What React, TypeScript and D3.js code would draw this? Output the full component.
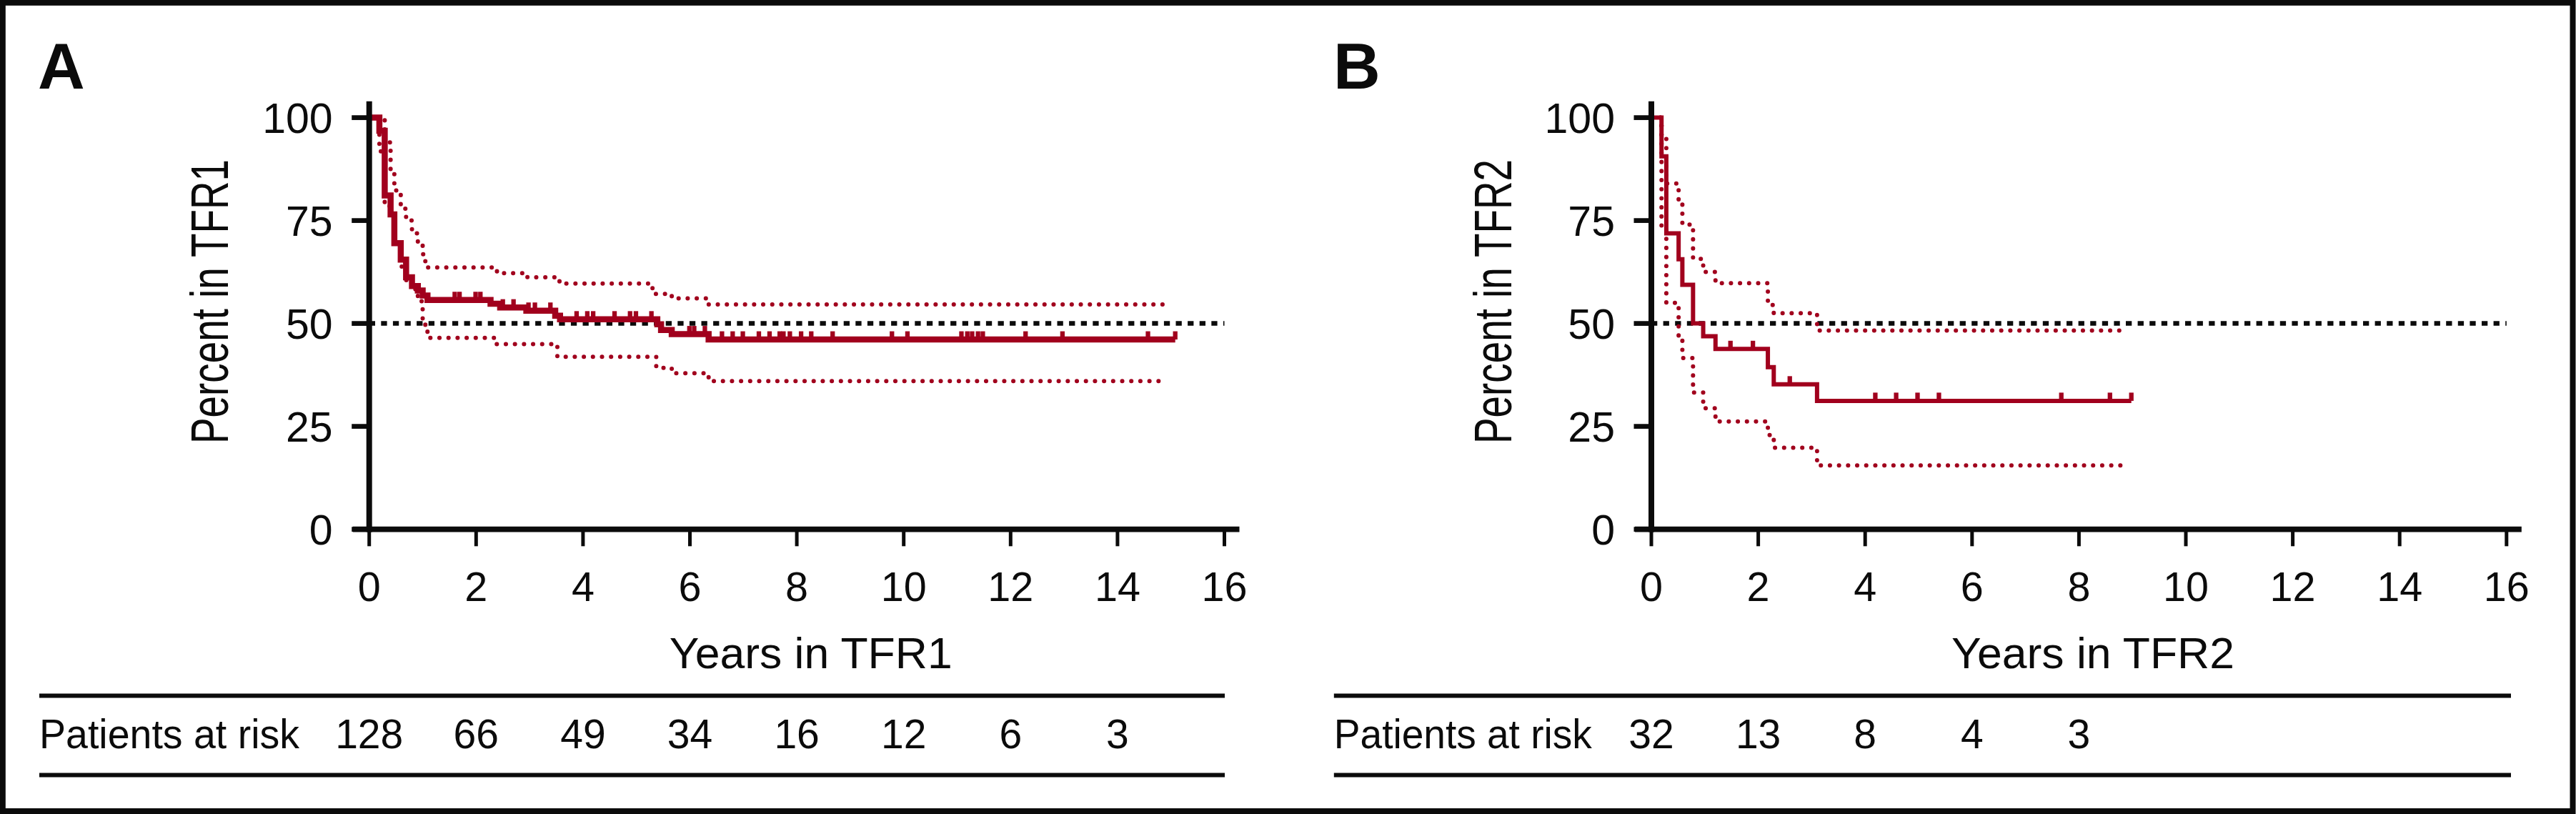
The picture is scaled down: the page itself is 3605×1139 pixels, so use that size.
import React from 'react';
import * as d3 from 'd3';

// ---------- shared axis values ----------
const yTicks = [0, 25, 50, 75, 100];
const xTicks = [0, 2, 4, 6, 8, 10, 12, 14, 16];
const riskYears = [0, 2, 4, 6, 8, 10, 12, 14];

// ---------- Panel A (TFR1) ----------
const survA: [number, number][] = [
  [0, 100], [0.19, 96.8], [0.29, 81.1], [0.4, 76.5], [0.47, 69.5], [0.59, 65.5],
  [0.69, 61.2], [0.8, 59.1], [0.91, 58.0], [1.0, 56.8], [1.09, 55.7], [2.27, 54.8],
  [2.45, 53.9], [2.94, 53.1], [3.48, 51.9], [3.57, 51.0], [5.39, 49.8], [5.46, 48.4],
  [5.66, 47.4], [6.35, 46.1],
];
const survAEnd = 15.08;
const upperA: [number, number][] = [
  [0, 100], [0.29, 94], [0.4, 87.2], [0.47, 82.3], [0.59, 77.9], [0.69, 75], [0.8, 71.9],
  [0.91, 69], [1.0, 66.8], [1.05, 65], [1.09, 63.6], [2.39, 62.2], [2.96, 61.2],
  [3.56, 59.7], [5.3, 57.2], [5.66, 56.1], [6.35, 54.6],
];
const upperAEnd = 15.0;
const lowerA: [number, number][] = [
  [0, 100], [0.19, 91.8], [0.29, 78.5], [0.4, 75.1], [0.47, 69.5], [0.59, 63.8],
  [0.69, 60.5], [0.8, 58.3], [0.91, 55.4], [1.0, 50.3], [1.05, 48.4], [1.09, 46.5],
  [2.36, 45], [3.52, 41.9], [5.37, 39.2], [5.66, 37.9], [6.35, 36.0],
];
const lowerAEnd = 14.85;
const censorA = [
  1.6, 1.69, 1.99, 2.08, 2.5, 2.7, 2.98, 3.1, 3.39, 3.88, 4.08, 4.19, 4.59, 4.88, 4.99,
  5.28, 5.99, 6.08, 6.28, 6.6, 6.8, 6.99, 7.29, 7.49, 7.68, 7.75, 7.87, 8.08, 8.27,
  8.67, 9.78, 10.07, 11.08, 11.19, 11.28, 11.39, 11.48, 12.28, 12.97, 14.57, 15.08,
];
const riskA = ['128', '66', '49', '34', '16', '12', '6', '3'];

// ---------- Panel B (TFR2) ----------
const survB: [number, number][] = [
  [0, 100], [0.19, 90.6], [0.28, 71.9], [0.51, 65.6], [0.58, 59.4], [0.78, 50],
  [0.97, 46.9], [1.2, 43.8], [2.18, 39.4], [2.29, 35.2], [3.1, 31.2],
];
const survBEnd = 8.98;
const upperB: [number, number][] = [
  [0, 100], [0.19, 95], [0.28, 84], [0.51, 79], [0.58, 74], [0.78, 65.7], [0.97, 62.5],
  [1.2, 59.8], [2.18, 54.5], [2.29, 52.5], [3.1, 48.3],
];
const upperBEnd = 8.87;
const lowerB: [number, number][] = [
  [0, 100], [0.19, 73.6], [0.28, 55], [0.51, 46.9], [0.58, 41.6], [0.78, 33.2],
  [0.97, 29.4], [1.2, 26.2], [2.18, 22.9], [2.29, 19.8], [3.1, 15.5],
];
const lowerBEnd = 8.85;
const censorB = [1.48, 1.9, 2.59, 4.19, 4.58, 4.98, 5.38, 7.67, 8.58, 8.98];
const riskB = ['32', '13', '8', '4', '3'];

const RED = '#A1001D';
const INK = '#0b0b0b';
const FONT = '"Liberation Sans", Arial, Helvetica, sans-serif';

type PanelCfg = {
  letter: string;
  letterX: number;
  x0: number;
  yLabel: string;
  yLabelX: number;
  xLabel: string;
  leftX: number;
  rightX: number;
  riskLabelW: number;
  surv: [number, number][];
  survEnd: number;
  upper: [number, number][];
  upperEnd: number;
  lower: [number, number][];
  lowerEnd: number;
  censor: number[];
  risk: string[];
  lineW: number;
};

function valueAt(steps: [number, number][], t: number) {
  let v = steps[0][1];
  for (const [tt, vv] of steps) if (tt <= t) v = vv;
  return v;
}

function Panel({ c }: { c: PanelCfg }) {
  const xs = d3.scaleLinear().domain([0, 16]).range([c.x0, c.x0 + 1196.8]);
  const ys = d3.scaleLinear().domain([0, 100]).range([740.6, 164.6]);
  const line = d3
    .line<[number, number]>()
    .x((d) => xs(d[0]))
    .y((d) => ys(d[1]))
    .curve(d3.curveStepAfter);
  const withEnd = (s: [number, number][], end: number): [number, number][] => [
    ...s,
    [end, s[s.length - 1][1]],
  ];
  const axisY = ys(0);
  return (
    <g>
      <text x={c.letterX} y={124.4} fontFamily={FONT} fontWeight="bold" fontSize={91} fill={INK}>
        {c.letter}
      </text>
      {/* y label */}
      <text
        transform={`translate(${c.yLabelX},${621}) rotate(-90)`}
        textAnchor="start"
        fontFamily={FONT}
        fontSize={74}
        textLength={398}
        lengthAdjust="spacingAndGlyphs"
        fill={INK}
      >
        {c.yLabel}
      </text>
      {/* reference 50% line */}
      <line
        x1={xs(0)}
        x2={xs(16)}
        y1={ys(50)}
        y2={ys(50)}
        stroke={INK}
        strokeWidth={6.5}
        strokeDasharray="8.3 8.3"
      />
      {/* CIs */}
      <path
        d={line(withEnd(c.upper, c.upperEnd)) || ''}
        fill="none"
        stroke={RED}
        strokeWidth={6}
        strokeLinecap="round"
        strokeDasharray="0.1 12.6"
      />
      <path
        d={line(withEnd(c.lower, c.lowerEnd)) || ''}
        fill="none"
        stroke={RED}
        strokeWidth={6}
        strokeLinecap="round"
        strokeDasharray="0.1 12.6"
      />
      {/* KM curve */}
      <path d={line(withEnd(c.surv, c.survEnd)) || ''} fill="none" stroke={RED} strokeWidth={c.lineW} />
      {c.censor.map((t, i) => (
        <line
          key={i}
          x1={xs(t)}
          x2={xs(t)}
          y1={ys(valueAt(c.surv, t))}
          y2={ys(valueAt(c.surv, t)) - 11.5}
          stroke={RED}
          strokeWidth={6.3}
        />
      ))}
      {/* axes */}
      <line x1={c.x0} x2={c.x0} y1={141.7} y2={axisY + 3.8} stroke={INK} strokeWidth={8} />
      <line x1={c.x0 - 23} x2={xs(16) + 21} y1={axisY} y2={axisY} stroke={INK} strokeWidth={7.6} />
      {yTicks.map((v) => (
        <g key={v}>
          <line x1={c.x0 - 24.5} x2={c.x0} y1={ys(v)} y2={ys(v)} stroke={INK} strokeWidth={6.7} />
          <text
            x={c.x0 - 51}
            y={ys(v) + 21}
            textAnchor="end"
            fontFamily={FONT}
            fontSize={59}
            fill={INK}
          >
            {v}
          </text>
        </g>
      ))}
      {xTicks.map((v) => (
        <g key={v}>
          <line x1={xs(v)} x2={xs(v)} y1={axisY} y2={764.3} stroke={INK} strokeWidth={5} />
          <text x={xs(v)} y={840.6} textAnchor="middle" fontFamily={FONT} fontSize={57.5} fill={INK}>
            {v}
          </text>
        </g>
      ))}
      <text
        x={c.x0 + 618}
        y={935}
        textAnchor="middle"
        fontFamily={FONT}
        fontSize={62}
        textLength={396}
        lengthAdjust="spacingAndGlyphs"
        fill={INK}
      >
        {c.xLabel}
      </text>
      {/* risk table */}
      <line x1={c.leftX} x2={c.rightX} y1={973.5} y2={973.5} stroke={INK} strokeWidth={6} />
      <line x1={c.leftX} x2={c.rightX} y1={1084.4} y2={1084.4} stroke={INK} strokeWidth={6} />
      <text
        x={c.leftX}
        y={1047}
        fontFamily={FONT}
        fontSize={57}
        textLength={c.riskLabelW}
        lengthAdjust="spacingAndGlyphs"
        fill={INK}
      >
        Patients at risk
      </text>
      {c.risk.map((r, i) => (
        <text key={i} x={xs(riskYears[i])} y={1047} textAnchor="middle" fontFamily={FONT} fontSize={57} fill={INK}>
          {r}
        </text>
      ))}
    </g>
  );
}

const panelA: PanelCfg = {
  letter: 'A',
  letterX: 53,
  x0: 516.7,
  yLabel: 'Percent in TFR1',
  yLabelX: 318.5,
  xLabel: 'Years in TFR1',
  leftX: 55,
  rightX: 1714,
  riskLabelW: 364,
  surv: survA,
  survEnd: survAEnd,
  upper: upperA,
  upperEnd: upperAEnd,
  lower: lowerA,
  lowerEnd: lowerAEnd,
  censor: censorA,
  risk: riskA,
  lineW: 8.5,
};

const panelB: PanelCfg = {
  letter: 'B',
  letterX: 1866,
  x0: 2311,
  yLabel: 'Percent in TFR2',
  yLabelX: 2114.5,
  xLabel: 'Years in TFR2',
  leftX: 1866.8,
  rightX: 3514,
  riskLabelW: 361,
  surv: survB,
  survEnd: survBEnd,
  upper: upperB,
  upperEnd: upperBEnd,
  lower: lowerB,
  lowerEnd: lowerBEnd,
  censor: censorB,
  risk: riskB,
  lineW: 6,
};

export default function App() {
  return (
    <svg
      width={3605}
      height={1139}
      viewBox="0 0 3605 1139"
      style={{ position: 'absolute', left: 0, top: 0, background: '#fff' }}
    >
      <rect x={0} y={0} width={3605} height={1139} fill="#fff" />
      <Panel c={panelA} />
      <Panel c={panelB} />
      <rect x={3.8} y={3.8} width={3596.7} height={1131.2} fill="none" stroke={INK} strokeWidth={8} />
    </svg>
  );
}
